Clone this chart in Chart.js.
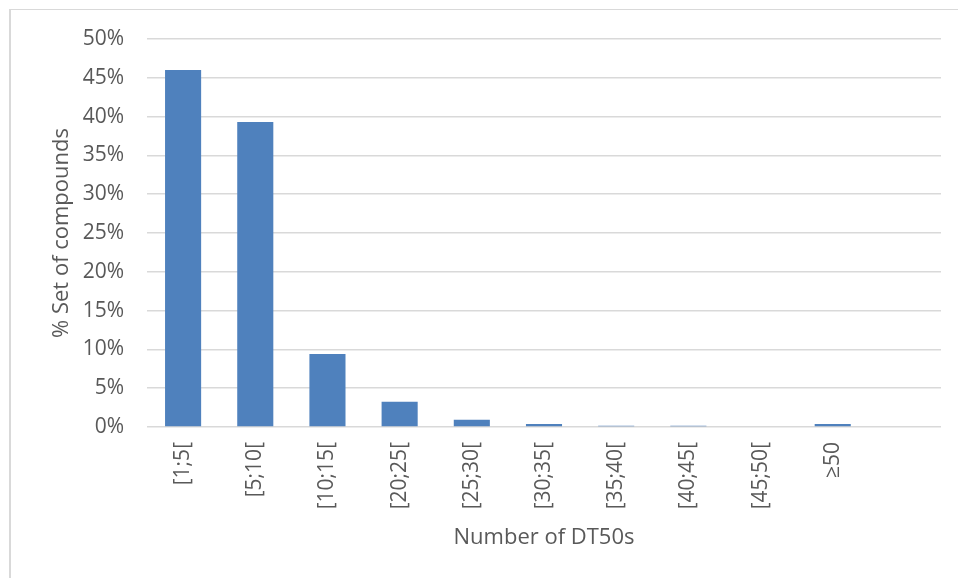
<!DOCTYPE html>
<html>
<head>
<meta charset="utf-8">
<script src="https://cdn.jsdelivr.net/npm/chart.js@4"></script>
<style>
  body { margin: 0; background: #fff; }
  #wrap { position: relative; width: 958px; height: 578px; overflow: hidden; }
  #frame {
    position: absolute; left: 9px; top: 9px; width: 970px; height: 590px;
    border-top: 1px solid #d9d9d9; border-left: 2px solid #d9d9d9;
    pointer-events: none;
  }
  canvas { position: absolute; left: 0; top: 0; }
</style>
</head>
<body>
<div id="wrap">
  <canvas id="dt50" width="958" height="578"></canvas>
  <div id="frame"></div>
</div>
<script>
// DT50 count bins and share of compounds in each (percent)
const bins = ['[1;5[', '[5;10[', '[10;15[', '[20;25[', '[25;30[', '[30;35[',
  '[35;40[', '[40;45[', '[45;50[', '\u226550', ''];
const sharePct = [46.0, 39.3, 9.4, 3.25, 0.93, 0.4, 0.15, 0.15, 0, 0.4, null];
const yTicks = [0, 5, 10, 15, 20, 25, 30, 35, 40, 45, 50];

const textGrey = '#595959';
const fam = '"Open Sans", sans-serif';

const ctx = document.getElementById('dt50');
new Chart(ctx, {
  type: 'bar',
  data: {
    labels: bins,
    datasets: [{
      data: sharePct,
      backgroundColor: '#4f81bd',
      borderWidth: 0,
      barPercentage: 0.5,
      categoryPercentage: 1
    }]
  },
  options: {
    responsive: false,
    animation: false,
    events: [],
    layout: { padding: { top: 39, right: 17, left: 0, bottom: 0 } },
    plugins: { legend: { display: false }, tooltip: { enabled: false } },
    scales: {
      x: {
        grid: { display: false, drawTicks: false },
        border: { display: false },
        ticks: {
          color: textGrey,
          font: { family: fam, size: 21 },
          minRotation: 90, maxRotation: 90,
          autoSkip: false,
          padding: 15
        },
        title: {
          display: true,
          text: 'Number of DT50s',
          color: textGrey,
          font: { family: fam, size: 22 },
          padding: { top: 0, bottom: 27 }
        },
        afterFit: (s) => { s.height = 151; }
      },
      y: {
        min: 0,
        max: 50,
        afterBuildTicks: (s) => { s.ticks = yTicks.map(v => ({ value: v })); },
        grid: { color: '#d9d9d9', lineWidth: 1.5, drawTicks: false },
        border: { display: false },
        ticks: {
          color: textGrey,
          font: { family: fam, size: 21 },
          padding: 23,
          callback: (v) => v + '%'
        },
        title: {
          display: true,
          text: '% Set of compounds',
          color: textGrey,
          font: { family: fam, size: 22 },
          padding: { top: 49, bottom: 0 }
        },
        afterFit: (s) => { s.width = 147; }
      }
    }
  }
});
</script>
</body>
</html>
